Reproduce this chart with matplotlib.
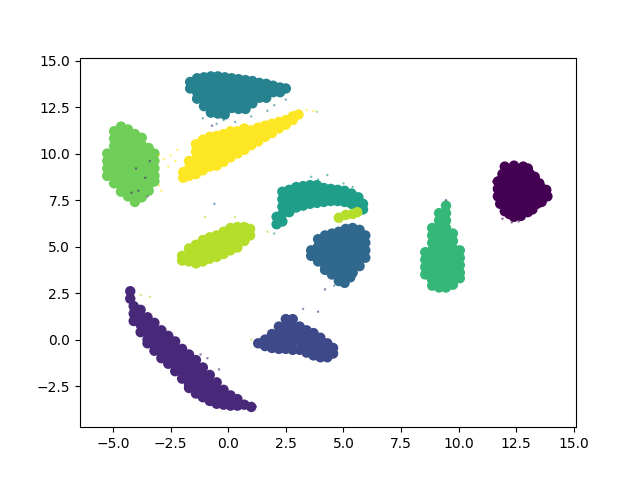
import matplotlib
matplotlib.use("Agg")
import matplotlib.pyplot as plt

# Hand-read positions sampled from each cluster: (x, y)
c0 = [(12.0,9.3),(12.4,9.35),(12.8,9.3),(13.0,9.2),(11.9,8.9),(12.3,8.9),(12.7,8.9),(13.1,8.9),(13.3,8.75),
      (11.7,8.5),(12.1,8.5),(12.5,8.5),(12.9,8.5),(13.3,8.5),(13.5,8.4),(11.7,8.1),(12.1,8.1),(12.5,8.1),(12.9,8.1),
      (13.3,8.1),(13.8,8.05),(11.7,7.7),(12.1,7.7),(12.5,7.7),(12.9,7.7),(13.3,7.7),(13.85,7.7),(11.8,7.3),(12.2,7.3),
      (12.6,7.3),(13.0,7.3),(13.4,7.3),(13.6,7.4),(12.0,6.9),(12.4,6.9),(12.8,6.9),(13.2,7.0),(12.4,6.6),(12.7,6.65),
      (12.1,9.1),(12.5,9.1),(12.9,9.1),(11.9,8.7),(12.3,8.7),(12.7,8.7),(13.1,8.65),(11.9,8.3),(12.3,8.3),(12.7,8.3),(13.1,8.3),(13.55,8.2),
      (11.9,7.9),(12.3,7.9),(12.7,7.9),(13.1,7.9),(13.55,7.85),(11.95,7.5),(12.35,7.5),(12.75,7.5),(13.15,7.5),(13.6,7.65),
      (12.2,7.1),(12.6,7.1),(13.0,7.1),(12.2,6.75),(12.6,6.8),(13.0,6.85)]
c1 = [(-4.25,2.6),(-4.25,2.2),(-4.1,1.8),(-4.1,1.4),(-4.1,1.0),(-3.8,1.6),(-3.8,1.2),(-3.8,0.8),(-3.8,0.4),
      (-3.5,1.2),(-3.5,0.8),(-3.5,0.4),(-3.5,0.0),(-3.5,-0.2),(-3.2,0.9),(-3.2,0.5),(-3.2,0.1),(-3.2,-0.3),(-3.2,-0.6),
      (-2.9,0.5),(-2.9,0.1),(-2.9,-0.3),(-2.9,-0.7),(-2.9,-1.0),(-2.6,0.2),(-2.6,-0.2),(-2.6,-0.6),(-2.6,-1.0),(-2.6,-1.3),
      (-2.3,-0.1),(-2.3,-0.5),(-2.3,-0.9),(-2.3,-1.3),(-2.3,-1.7),(-2.0,-0.5),(-2.0,-0.9),(-2.0,-1.3),(-2.0,-1.7),(-2.0,-2.1),
      (-1.7,-0.8),(-1.7,-1.2),(-1.7,-1.6),(-1.7,-2.0),(-1.7,-2.4),(-1.7,-2.6),(-1.4,-1.1),(-1.4,-1.5),(-1.4,-1.9),(-1.4,-2.3),
      (-1.4,-2.7),(-1.4,-2.9),(-1.1,-1.5),(-1.1,-1.9),(-1.1,-2.3),(-1.1,-2.7),(-1.1,-3.1),(-0.8,-1.9),(-0.8,-2.3),(-0.8,-2.7),
      (-0.8,-3.1),(-0.8,-3.3),(-0.5,-2.3),(-0.5,-2.7),(-0.5,-3.1),(-0.5,-3.45),(-0.2,-2.7),(-0.2,-3.1),(-0.2,-3.5),
      (0.1,-3.0),(0.1,-3.3),(0.1,-3.55),(0.4,-3.2),(0.4,-3.55),(0.7,-3.5),(1.0,-3.62)]
c2 = [(1.3,-0.2),(1.6,0.0),(1.6,-0.35),(1.9,0.3),(1.9,-0.05),(1.9,-0.45),(2.2,0.7),(2.2,0.3),(2.2,-0.1),(2.2,-0.5),
      (2.5,1.1),(2.5,0.7),(2.5,0.3),(2.5,-0.1),(2.5,-0.5),(2.8,1.1),(2.8,0.7),(2.8,0.3),(2.8,-0.1),(2.8,-0.55),
      (3.1,0.7),(3.1,0.3),(3.1,-0.1),(3.1,-0.55),(3.4,0.5),(3.4,0.1),(3.4,-0.3),(3.4,-0.7),(3.7,0.35),(3.7,-0.05),
      (3.7,-0.45),(3.7,-0.85),(4.0,0.1),(4.0,-0.3),(4.0,-0.7),(4.0,-0.95),(4.3,-0.2),(4.3,-0.6),(4.3,-0.95),(4.55,-0.45),(4.55,-0.75)]
c3 = [(3.6,4.8),(3.6,4.5),(3.9,5.4),(3.9,5.0),(3.9,4.6),(3.9,4.2),(4.2,5.6),(4.2,5.2),(4.2,4.8),(4.2,4.4),(4.2,4.0),(4.2,3.75),
      (4.5,5.7),(4.5,5.3),(4.5,4.9),(4.5,4.5),(4.5,4.1),(4.5,3.7),(4.5,3.5),(4.8,5.8),(4.8,5.4),(4.8,5.0),(4.8,4.6),(4.8,4.2),
      (4.8,3.8),(4.8,3.4),(4.8,3.15),(5.1,5.95),(5.1,5.55),(5.1,5.15),(5.1,4.75),(5.1,4.35),(5.1,3.95),(5.1,3.55),(5.05,3.05),
      (5.4,6.0),(5.4,5.6),(5.4,5.2),(5.4,4.8),(5.4,4.4),(5.4,4.0),(5.4,3.6),(5.3,3.35),(5.7,5.9),(5.7,5.5),(5.7,5.1),(5.7,4.7),
      (5.7,4.3),(5.7,3.95),(5.95,5.6),(5.95,5.2),(5.95,4.8),(5.95,4.4)]
c4 = [(-1.65,13.85),(-1.65,13.5),(-1.35,14.05),(-1.35,13.7),(-1.35,13.3),(-1.35,12.95),(-1.05,14.1),(-1.05,13.7),(-1.05,13.3),
      (-1.05,12.9),(-1.05,12.55),(-0.75,14.15),(-0.75,13.75),(-0.75,13.35),(-0.75,12.95),(-0.75,12.55),(-0.75,12.2),
      (-0.45,14.15),(-0.45,13.75),(-0.45,13.35),(-0.45,12.95),(-0.45,12.55),(-0.45,12.15),(-0.15,14.1),(-0.15,13.7),(-0.15,13.3),
      (-0.15,12.9),(-0.15,12.5),(-0.15,12.1),(0.15,14.05),(0.15,13.65),(0.15,13.25),(0.15,12.85),(0.15,12.45),(0.45,14.0),
      (0.45,13.6),(0.45,13.2),(0.45,12.8),(0.45,12.4),(0.75,13.95),(0.75,13.55),(0.75,13.15),(0.75,12.75),(0.75,12.4),
      (1.05,13.9),(1.05,13.5),(1.05,13.1),(1.05,12.7),(1.35,13.8),(1.35,13.4),(1.35,13.0),(1.65,13.75),(1.65,13.35),(1.65,13.0),
      (1.95,13.65),(1.95,13.3),(2.25,13.55),(2.25,13.3),(2.5,13.5)]
c5 = [(2.1,6.2),(2.1,6.6),(2.35,6.35),(2.35,6.75),(2.35,7.15),(2.35,7.55),(2.35,7.95),(2.65,6.85),(2.65,7.25),(2.65,7.65),(2.65,8.05),
      (2.95,7.1),(2.95,7.5),(2.95,7.9),(2.95,8.2),(3.25,7.2),(3.25,7.6),(3.25,8.0),(3.25,8.25),(3.55,7.3),(3.55,7.7),(3.55,8.1),(3.55,8.3),
      (3.85,7.35),(3.85,7.75),(3.85,8.15),(3.85,8.3),(4.15,7.4),(4.15,7.8),(4.15,8.15),(4.45,7.45),(4.45,7.8),(4.45,8.1),
      (4.75,7.45),(4.75,7.85),(4.75,8.05),(5.05,7.4),(5.05,7.75),(5.05,8.0),(5.35,7.3),(5.35,7.65),(5.35,7.85),(5.65,7.05),
      (5.65,7.4),(5.65,7.65),(5.85,7.0),(5.85,7.3)]
c6 = [(8.55,4.7),(8.55,4.3),(8.55,3.9),(8.55,3.5),(8.85,6.0),(8.85,5.6),(8.85,5.2),(8.85,4.8),(8.85,4.4),(8.85,4.0),(8.85,3.6),(8.85,3.2),(8.85,2.9),
      (9.15,6.8),(9.15,6.4),(9.15,6.0),(9.15,5.6),(9.15,5.2),(9.15,4.8),(9.15,4.4),(9.15,4.0),(9.15,3.6),(9.15,3.2),(9.15,2.8),
      (9.45,7.2),(9.45,6.8),(9.45,6.4),(9.45,6.0),(9.45,5.6),(9.45,5.2),(9.45,4.8),(9.45,4.4),(9.45,4.0),(9.45,3.6),(9.45,3.2),(9.45,2.8),
      (9.75,5.7),(9.75,5.3),(9.75,4.9),(9.75,4.5),(9.75,4.1),(9.75,3.7),(9.75,3.3),(9.75,2.95),(10.05,4.8),(10.05,4.4),(10.05,4.0),(10.05,3.6),(10.05,3.3)]
c7 = [(-5.25,10.0),(-5.25,9.6),(-5.25,9.2),(-5.25,8.8),(-4.95,11.2),(-4.95,10.8),(-4.95,10.4),(-4.95,10.0),(-4.95,9.6),(-4.95,9.2),(-4.95,8.8),(-4.95,8.4),
      (-4.65,11.45),(-4.65,11.05),(-4.65,10.65),(-4.65,10.25),(-4.65,9.85),(-4.65,9.45),(-4.65,9.05),(-4.65,8.65),(-4.65,8.25),(-4.65,7.95),
      (-4.35,11.3),(-4.35,10.9),(-4.35,10.5),(-4.35,10.1),(-4.35,9.7),(-4.35,9.3),(-4.35,8.9),(-4.35,8.5),(-4.35,8.1),(-4.35,7.7),
      (-4.05,11.05),(-4.05,10.65),(-4.05,10.25),(-4.05,9.85),(-4.05,9.45),(-4.05,9.05),(-4.05,8.65),(-4.05,8.25),(-4.05,7.85),(-4.05,7.4),
      (-3.75,10.85),(-3.75,10.45),(-3.75,10.05),(-3.75,9.65),(-3.75,9.25),(-3.75,8.85),(-3.75,8.45),(-3.75,8.05),(-3.75,7.65),
      (-3.45,10.3),(-3.45,9.9),(-3.45,9.5),(-3.45,9.1),(-3.45,8.7),(-3.45,8.3),(-3.45,8.0),(-3.2,10.0),(-3.2,9.6),(-3.2,9.2),(-3.2,8.8),(-3.2,8.5)]
c8 = [(-2.0,4.5),(-2.0,4.25),(-1.7,4.9),(-1.7,4.5),(-1.7,4.2),(-1.4,5.1),(-1.4,4.7),(-1.4,4.3),(-1.4,4.1),(-1.1,5.35),(-1.1,4.95),(-1.1,4.55),(-1.1,4.2),
      (-0.8,5.5),(-0.8,5.1),(-0.8,4.7),(-0.8,4.35),(-0.5,5.6),(-0.5,5.2),(-0.5,4.8),(-0.5,4.45),(-0.2,5.8),(-0.2,5.4),(-0.2,5.0),(-0.2,4.6),
      (0.1,6.0),(0.1,5.6),(0.1,5.2),(0.1,4.8),(0.4,6.05),(0.4,5.65),(0.4,5.25),(0.4,4.95),(0.7,6.05),(0.7,5.7),(0.7,5.3),(0.95,5.95),(0.95,5.6),
      (4.8,6.55),(5.1,6.7),(5.4,6.75),(5.6,6.85)]
c9 = [(-1.95,8.7),(-1.95,9.0),(-1.7,8.8),(-1.7,9.2),(-1.7,9.6),(-1.4,8.9),(-1.4,9.3),(-1.4,9.7),(-1.4,10.1),(-1.4,10.5),(-1.1,9.1),(-1.1,9.5),(-1.1,9.9),(-1.1,10.3),(-1.1,10.75),
      (-0.8,9.3),(-0.8,9.7),(-0.8,10.1),(-0.8,10.5),(-0.8,10.9),(-0.5,9.35),(-0.5,9.75),(-0.5,10.15),(-0.5,10.55),(-0.5,10.95),(-0.2,9.55),(-0.2,9.95),(-0.2,10.35),(-0.2,10.75),(-0.2,11.05),
      (0.1,9.8),(0.1,10.2),(0.1,10.6),(0.1,11.0),(0.1,11.2),(0.4,10.0),(0.4,10.4),(0.4,10.8),(0.4,11.2),(0.7,10.2),(0.7,10.6),(0.7,11.0),(0.7,11.35),
      (1.0,10.45),(1.0,10.85),(1.0,11.25),(1.3,10.65),(1.3,11.05),(1.3,11.4),(1.6,10.9),(1.6,11.3),(1.6,11.5),(1.9,11.1),(1.9,11.45),(1.9,11.6),
      (2.2,11.35),(2.2,11.7),(2.5,11.55),(2.5,11.8),(2.8,11.8),(2.8,12.0),(3.05,12.1)]
clusters = [c0, c1, c2, c3, c4, c5, c6, c7, c8, c9]

# Sparse outlying points: (x, y, label)
strays = [(-3.0,9.9,9),(-2.8,9.7,9),(-2.5,9.9,9),(-2.3,9.6,9),(-2.6,9.3,9),(-3.0,8.3,9),(-2.9,8.0,9),(-2.2,10.2,9),(3.7,12.3,9),(3.4,12.35,9),(3.85,12.25,7),
          (-0.5,11.6,4),(-0.2,11.8,4),(0.3,11.7,4),(1.0,12.0,4),(1.7,12.3,4),(2.0,12.6,4),(2.5,12.9,4),(-1.1,11.9,4),(-0.7,11.5,1),
          (4.3,8.85,5),(3.6,8.75,5),(5.0,8.4,5),(5.4,8.2,5),(3.9,8.6,5),(9.45,7.5,1),(9.6,7.2,6),(11.9,6.5,0),(12.3,6.3,0),(12.6,6.35,0),(11.5,8.5,0),
          (-0.6,7.3,3),(0.3,6.6,8),(-1.0,6.6,8),(2.0,5.7,5),(1.7,5.8,8),(3.9,1.5,1),(3.25,1.65,2),(-1.2,-0.8,1),(-0.9,-1.0,1),(-0.4,-1.6,1),(1.0,-3.4,1),(1.2,-3.6,1),
          (-3.8,2.4,8),(-3.4,2.3,8),(1.0,0.0,8),(4.2,2.7,1),(4.6,2.9,3),(-4.0,9.2,1),(-3.6,8.7,1),(-3.9,8.0,1),(-3.4,9.6,1),(-4.2,7.9,1),(-3.5,7.7,1)]

fig, ax = plt.subplots(figsize=(6.4, 4.8), dpi=100)
xs, ys, cs = [], [], []
for label, pts in enumerate(clusters):
    for x, y in pts:
        xs.append(x); ys.append(y); cs.append(label)
ax.scatter(xs, ys, c=cs, cmap="viridis", vmin=0, vmax=9, s=56, linewidths=0)
ax.scatter([p[0] for p in strays], [p[1] for p in strays], c=[p[2] for p in strays],
           cmap="viridis", vmin=0, vmax=9, s=3, alpha=0.6, linewidths=0)
ax.set_xlim(-6.43, 15.09)
ax.set_ylim(-4.71, 15.16)
fig.savefig("out.png", dpi=100)
